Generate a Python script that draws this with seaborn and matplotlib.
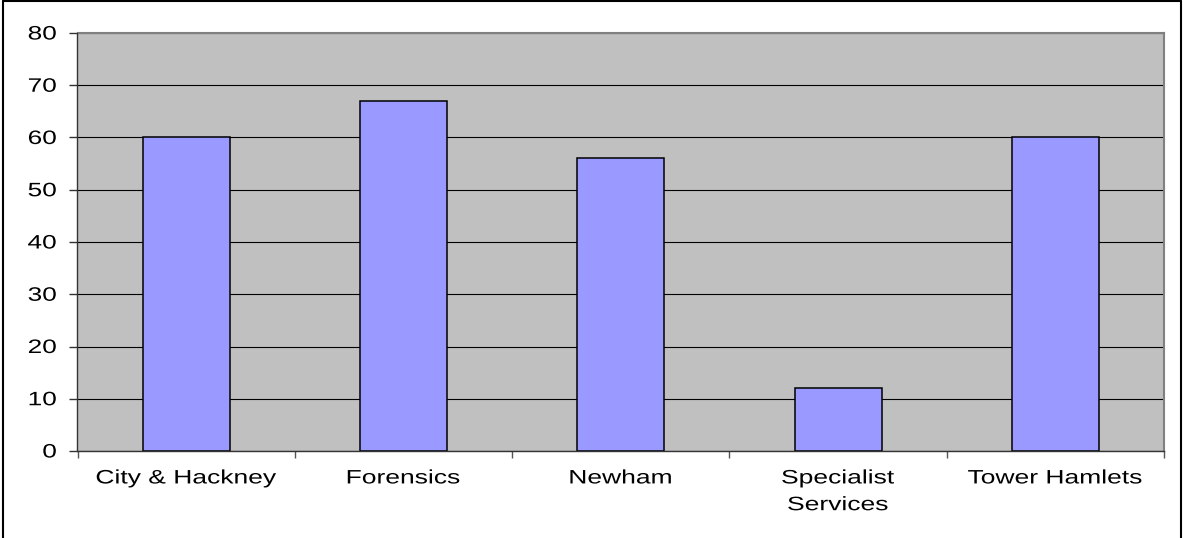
import matplotlib
matplotlib.use("Agg")
import matplotlib.pyplot as plt
import seaborn as sns
import pandas as pd
import numpy as np
from matplotlib.patheffects import AbstractPathEffect
from matplotlib.transforms import Affine2D
from matplotlib.lines import Line2D

categories = ["City & Hackney", "Forensics", "Newham", "Specialist\nServices", "Tower Hamlets"]
values = [60, 67, 56, 12, 60]
yticks = [0, 10, 20, 30, 40, 50, 60, 70, 80]


class HStretch(AbstractPathEffect):
    """Stretch glyph outlines horizontally around an anchor (Excel-like wide text)."""
    def __init__(self, sx, anchor="center"):
        super().__init__()
        self.sx = sx
        self.anchor = anchor

    def draw_path(self, renderer, gc, tpath, affine, rgbFace=None):
        ext = tpath.get_extents(affine)
        if self.anchor == "right":
            x0 = ext.x1
        elif self.anchor == "left":
            x0 = ext.x0
        else:
            x0 = 0.5 * (ext.x0 + ext.x1)
        aff = affine + Affine2D().translate(-x0, 0).scale(self.sx, 1).translate(x0, 0)
        renderer.draw_path(gc, tpath, aff, rgbFace)


sns.set_theme(style="white")
plt.rcParams["font.family"] = ["Liberation Sans", "DejaVu Sans"]

W, H = 1183, 538
fig = plt.figure(figsize=(W / 100, H / 100), dpi=100)
left, right, top, bottom = 77.5, 1164, 33, 451
ax = fig.add_axes([left / W, 1 - bottom / H, (right - left) / W, (bottom - top) / H])
ax.set_facecolor("#C0C0C0")

df = pd.DataFrame({"cat": categories, "val": values})
sns.barplot(data=df, x="cat", y="val", ax=ax, color="#9999FF", saturation=1,
            width=0.4, edgecolor="black", linewidth=1.1, zorder=3)

ax.set_xlim(-0.5, len(categories) - 0.5)
ax.set_ylim(0, 80)
ax.set_yticks(yticks)
ax.set_xlabel("")
ax.set_ylabel("")

ax.yaxis.grid(True, color="black", linewidth=0.8, zorder=1)
ax.xaxis.grid(False)
ax.set_axisbelow(True)

for s in ["top", "right"]:
    ax.spines[s].set_color("#808080")
    ax.spines[s].set_linewidth(1.5)
for s in ["left", "bottom"]:
    ax.spines[s].set_color("#333333")
    ax.spines[s].set_linewidth(1.0)
    ax.spines[s].set_zorder(5)

ax.tick_params(axis="y", which="major", length=6, width=1, color="#333333",
               left=True, pad=9, labelsize=14, labelcolor="black")
ax.tick_params(axis="x", which="major", length=0, pad=14, labelsize=14, labelcolor="black")
ax.set_xticks(np.arange(-0.5, len(categories), 1), minor=True)
ax.tick_params(axis="x", which="minor", length=5, width=1, color="#555555", bottom=True)

for lab in ax.get_yticklabels():
    lab.set_path_effects([HStretch(1.35, "right")])
for lab in ax.get_xticklabels():
    lab.set_linespacing(1.75)
    lab.set_path_effects([HStretch(1.36, "center")])

# outer chart border (Excel chart area)
for xs, ys in [((3 / W, 3 / W), (-0.05, 1 - 1 / H)),
               ((3 / W, 1181 / W), (1 - 1 / H, 1 - 1 / H)),
               ((1181 / W, 1181 / W), (1 - 1 / H, -0.05))]:
    fig.add_artist(Line2D(xs, ys, transform=fig.transFigure, color="black", linewidth=1.5))

fig.savefig("out.png", dpi=100)
